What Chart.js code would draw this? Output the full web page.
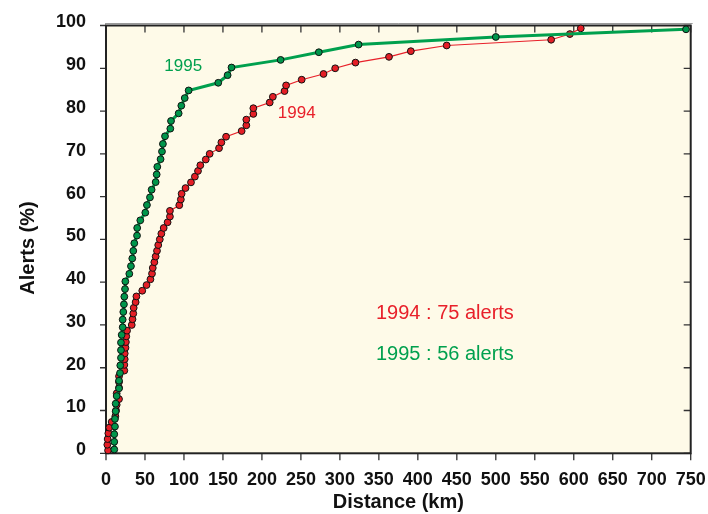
<!DOCTYPE html>
<html><head><meta charset="utf-8">
<script src="https://cdn.jsdelivr.net/npm/chart.js@4.4.1/dist/chart.umd.min.js"></script>
<style>html,body{margin:0;padding:0;background:#fff}#wrap{width:708px;height:514px}</style>
</head><body><div id="wrap"><canvas id="c" width="708" height="514"></canvas></div>
<script>
// ---- data ----
const dist1994 = [2.6,1.7,2.1,3,4.2,7.3,12,12.9,13.7,16.7,13.7,16.7,16.7,16.7,23.5,23.5,24,24,25,25.5,26,27,33,34,35,35.5,38,39,46.5,52,57,59,60,62,63.7,65.4,67,69,71,74,79,82,82,94,96,97,102,109,114,118,121,128,133,145,148,154,174,180,180,189,189,210,214,229,231,251,279,294,320,363,391,437,571,595,609];
const pct1994 = [0.67,2,3.33,4.67,6,7.33,8.67,10,11.33,12.67,14,15.33,16.67,18,19.33,20.67,22,23.33,24.67,26,27.33,28.67,30,31.33,32.67,34,35.33,36.67,38,39.33,40.67,42,43.33,44.67,46,47.33,48.67,50,51.33,52.67,54,55.33,56.67,58,59.33,60.67,62,63.33,64.67,66,67.33,68.67,70,71.33,72.67,74,75.33,76.67,78,79.33,80.67,82,83.33,84.67,86,87.33,88.67,90,91.33,92.67,94,95.33,96.67,98,99.33];
const dist1995 = [10.6,10.6,10.6,11.5,11.5,12.4,12.4,13.7,16.7,16.7,18,18.3,19.2,19.2,19.2,20.1,21.4,21.4,22.2,23,23.5,24.4,24.8,29.9,32,33.7,35,36.3,39.8,40,44,50.4,52.5,56.4,58.5,63.7,65,65.8,70,71.8,73,75.7,82.5,83.4,93.2,96.6,101,106,144,156,161,224,273,324,500,744];
const pct1995 = [0.89,2.68,4.46,6.25,8.04,9.82,11.61,13.39,15.18,16.96,18.75,20.54,22.32,24.11,25.89,27.68,29.46,31.25,33.04,34.82,36.61,38.39,40.18,41.96,43.75,45.54,47.32,49.11,50.89,52.68,54.46,56.25,58.04,59.82,61.61,63.39,65.18,66.96,68.75,70.54,72.32,74.11,75.89,77.68,79.46,81.25,83.04,84.82,86.61,88.39,90.18,91.96,93.75,95.54,97.32,99.11];
const xTickValues = [0,50,100,150,200,250,300,350,400,450,500,550,600,650,700,750];
const yTickValues = [0,10,20,30,40,50,60,70,80,90,100];
const seriesNames = ['1994','1995'];
const alertCounts = [75,56];

const FONT = "'Liberation Sans', Arial, sans-serif";
const RED = '#E8202A', GREEN = '#00A04E';

const pts = (xs, ys) => xs.map((x, i) => ({x, y: ys[i]}));

const framePlugin = {
  id: 'frame',
  beforeDraw(chart) {
    const {ctx, chartArea: a} = chart;
    ctx.save();
    ctx.fillStyle = '#FEFAE8';
    ctx.fillRect(a.left, a.top, a.right - a.left, a.bottom - a.top);
    ctx.restore();
  },
  beforeDatasetsDraw(chart) {
    const {ctx, chartArea: a, scales: {x, y}} = chart;
    ctx.save();
    ctx.strokeStyle = '#333';
    ctx.lineWidth = 1.3;
    ctx.beginPath();
    xTickValues.forEach(v => {
      const px = x.getPixelForValue(v);
      ctx.moveTo(px, a.bottom); ctx.lineTo(px, a.bottom + 7);
      ctx.moveTo(px, a.top); ctx.lineTo(px, a.top + 7);
    });
    yTickValues.forEach(v => {
      const py = y.getPixelForValue(v);
      ctx.moveTo(a.left - 6, py); ctx.lineTo(a.left, py);
      ctx.moveTo(a.right - 7, py); ctx.lineTo(a.right, py);
    });
    ctx.stroke();
    ctx.strokeStyle = '#999';
    ctx.lineWidth = 1;
    ctx.beginPath();
    ctx.moveTo(a.left - 1, a.top - 2); ctx.lineTo(a.right + 2, a.top - 2);
    ctx.stroke();
    ctx.strokeStyle = '#222';
    ctx.lineWidth = 2;
    ctx.strokeRect(a.left, a.top, a.right - a.left, a.bottom - a.top);
    // y-axis title
    ctx.save();
    ctx.translate(28, y.getPixelForValue(48));
    ctx.rotate(-Math.PI / 2);
    ctx.fillStyle = '#111';
    ctx.font = 'bold 20px ' + FONT;
    ctx.textAlign = 'center';
    ctx.textBaseline = 'middle';
    ctx.fillText('Alerts (%)', 0, 0);
    ctx.restore();
    ctx.restore();
  },
  afterDatasetsDraw(chart) {
    const {ctx, scales: {x, y}} = chart;
    ctx.save();
    ctx.textAlign = 'center';
    ctx.textBaseline = 'middle';
    ctx.font = '17px ' + FONT;
    ctx.fillStyle = GREEN;
    ctx.fillText(seriesNames[1], x.getPixelForValue(99), y.getPixelForValue(90.5));
    ctx.fillStyle = RED;
    ctx.fillText(seriesNames[0], x.getPixelForValue(244.6), y.getPixelForValue(79.4));
    ctx.textAlign = 'left';
    ctx.font = '20px ' + FONT;
    ctx.fillStyle = RED;
    ctx.fillText(seriesNames[0] + ' : ' + alertCounts[0] + ' alerts', x.getPixelForValue(346.3), y.getPixelForValue(32.7));
    ctx.fillStyle = GREEN;
    ctx.fillText(seriesNames[1] + ' : ' + alertCounts[1] + ' alerts', x.getPixelForValue(346.3), y.getPixelForValue(23.2));
    ctx.restore();
  }
};

Chart.defaults.font.family = FONT;

new Chart(document.getElementById('c'), {
  type: 'line',
  data: {
    datasets: [
      {
        label: seriesNames[1],
        data: pts(dist1995, pct1995),
        borderColor: GREEN, borderWidth: 3,
        pointBackgroundColor: '#00964B', pointBorderColor: '#111', pointBorderWidth: 1,
        pointRadius: 3.4, clip: false, tension: 0
      },
      {
        label: seriesNames[0],
        data: pts(dist1994, pct1994),
        borderColor: RED, borderWidth: 1.2,
        pointBackgroundColor: '#E41E26', pointBorderColor: '#111', pointBorderWidth: 1,
        pointRadius: 3.4, clip: false, tension: 0
      }
    ]
  },
  options: {
    responsive: false,
    animation: false,
    events: [],
    layout: {padding: {top: 25.5, right: 17.3, left: 0, bottom: 0}},
    plugins: {legend: {display: false}, tooltip: {enabled: false}},
    scales: {
      x: {
        type: 'linear', min: 0, max: 750,
        afterFit(s) { s.height = 60.7; s.paddingLeft = 0; s.paddingRight = 0; },
        afterBuildTicks(s) { s.ticks = xTickValues.map(v => ({value: v})); },
        grid: {display: false, drawTicks: false},
        border: {display: false},
        ticks: {autoSkip: false, maxRotation: 0, padding: 16, color: '#111', font: {size: 18, weight: 'bold'}},
        title: {display: true, text: 'Distance (km)', color: '#111', font: {size: 20, weight: 'bold'}, padding: {top: 0, bottom: 0}}
      },
      y: {
        type: 'linear', min: 0, max: 100,
        afterFit(s) { s.width = 106; s.paddingTop = 0; s.paddingBottom = 0; },
        afterBuildTicks(s) { s.ticks = yTickValues.map(v => ({value: v})); },
        grid: {display: false, drawTicks: false},
        border: {display: false},
        ticks: {autoSkip: false, padding: 20, labelOffset: -3, color: '#111', font: {size: 18, weight: 'bold'}},
        title: {display: false}
      }
    }
  },
  plugins: [framePlugin]
});
</script>
</body></html>
